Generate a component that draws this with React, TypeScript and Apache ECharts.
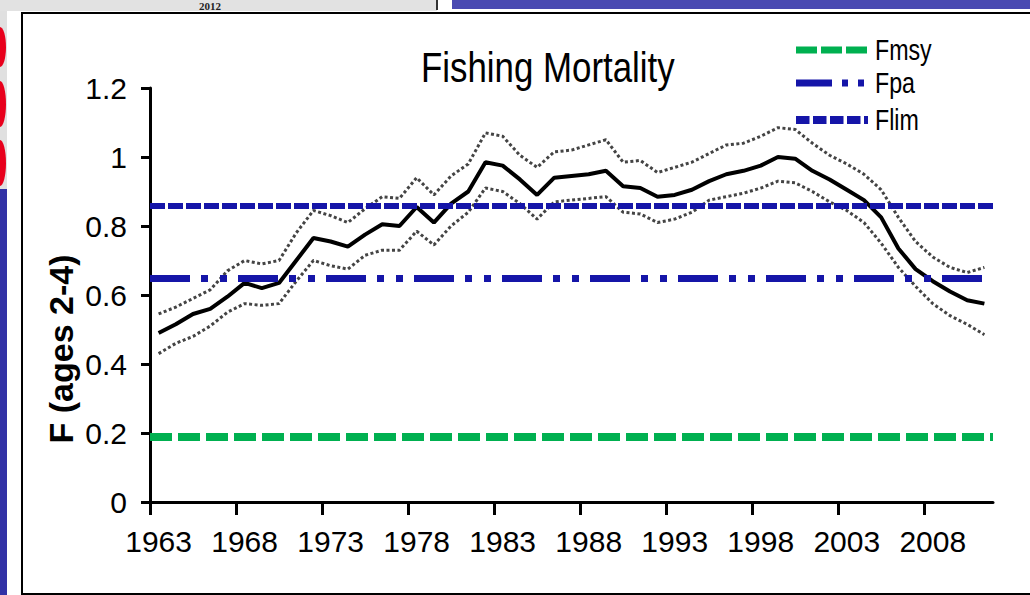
import React, { useEffect, useRef } from "react";
import * as echarts from "echarts";

const years = [
  1963, 1964, 1965, 1966, 1967, 1968, 1969, 1970, 1971, 1972,
  1973, 1974, 1975, 1976, 1977, 1978, 1979, 1980, 1981, 1982,
  1983, 1984, 1985, 1986, 1987, 1988, 1989, 1990, 1991, 1992,
  1993, 1994, 1995, 1996, 1997, 1998, 1999, 2000, 2001, 2002,
  2003, 2004, 2005, 2006, 2007, 2008, 2009, 2010, 2011,
];

const fishingF = [
  0.49, 0.515, 0.545, 0.56, 0.595, 0.635, 0.62, 0.635, 0.7, 0.765,
  0.755, 0.74, 0.775, 0.805, 0.8, 0.855, 0.81, 0.865, 0.9, 0.985,
  0.975, 0.935, 0.89, 0.94, 0.945, 0.95, 0.96, 0.915, 0.91, 0.885,
  0.89, 0.905, 0.93, 0.95, 0.96, 0.975, 1.0, 0.995, 0.96, 0.935,
  0.905, 0.875, 0.825, 0.735, 0.675, 0.64, 0.61, 0.585, 0.575,
];

const upperF = [
  0.545, 0.565, 0.59, 0.615, 0.67, 0.7, 0.69, 0.7, 0.78, 0.845,
  0.83, 0.81, 0.85, 0.885, 0.88, 0.94, 0.89, 0.945, 0.98, 1.07,
  1.06, 1.005, 0.97, 1.015, 1.02, 1.035, 1.05, 0.985, 0.99, 0.955,
  0.97, 0.985, 1.01, 1.035, 1.04, 1.06, 1.085, 1.08, 1.04, 1.005,
  0.98, 0.95, 0.905, 0.825, 0.755, 0.71, 0.68, 0.665, 0.68,
];

const lowerF = [
  0.43, 0.46, 0.48, 0.51, 0.55, 0.575, 0.57, 0.575, 0.64, 0.7,
  0.685, 0.675, 0.715, 0.73, 0.73, 0.785, 0.745, 0.8, 0.84, 0.91,
  0.9, 0.865, 0.82, 0.87, 0.875, 0.88, 0.885, 0.84, 0.835, 0.81,
  0.82, 0.84, 0.875, 0.885, 0.895, 0.91, 0.93, 0.925, 0.9, 0.87,
  0.845, 0.81, 0.75, 0.68, 0.625, 0.575, 0.54, 0.515, 0.485,
];

const FMSY = 0.19;
const FPA = 0.65;
const FLIM = 0.86;

const xTickLabels = [1963, 1968, 1973, 1978, 1983, 1988, 1993, 1998, 2003, 2008];

const legendNames = ["Fmsy", "Fpa", "Flim"];

const GREEN = "#00b050";
const BLUE = "#1515a8";
const SANS = "'Liberation Sans', Arial, sans-serif";

const FMSY_DASH = [22, 6];
const FPA_DASH = [40, 11, 7, 12, 7, 11];
const FLIM_DASH = [15, 3];

export default function App() {
  const ref = useRef<HTMLDivElement>(null);

  useEffect(() => {
    if (!ref.current) return;
    const chart = echarts.init(ref.current, undefined, { renderer: "svg" });

    const pairs = (vals: number[]) => years.map((y, i) => [y, vals[i]]);
    const refLine = (name: string, value: number, color: string, width: number, dash: number[]) => ({
      name,
      type: "line",
      data: [],
      symbol: "none",
      lineStyle: { color, width, type: dash },
      itemStyle: { color },
      markLine: {
        silent: true,
        symbol: "none",
        label: { show: false },
        lineStyle: { color, width, type: dash },
        data: [{ yAxis: value }],
      },
    });

    const legendItems = [
      { name: legendNames[0], cy: 50, color: GREEN, width: 7, dash: [21, 4] },
      { name: legendNames[1], cy: 83, color: BLUE, width: 7, dash: [36, 10, 6, 10, 6, 10] },
      { name: legendNames[2], cy: 120, color: BLUE, width: 8, dash: [13.5, 3.5] },
    ];
    const legendGraphics: any[] = [];
    legendItems.forEach((it) => {
      legendGraphics.push({
        type: "line",
        shape: { x1: 796, y1: it.cy, x2: 868, y2: it.cy },
        style: { stroke: it.color, lineWidth: it.width, lineDash: it.dash },
        silent: true,
      });
      legendGraphics.push({
        type: "text",
        x: 875,
        y: it.cy,
        scaleX: 0.8,
        style: {
          text: it.name,
          font: `29px ${SANS}`,
          fill: "#000",
          textAlign: "left",
          textVerticalAlign: "middle",
        },
      });
    });

    chart.setOption({
      animation: false,
      backgroundColor: "#ffffff",
      grid: { left: 150, right: 37, top: 88, bottom: 93, containLabel: false },
      xAxis: {
        type: "value",
        min: 1962.5,
        max: 2011.5,
        splitLine: { show: false },
        axisLine: { show: true, lineStyle: { color: "#000", width: 3 } },
        axisTick: {
          show: true,
          length: 13,
          lineStyle: { color: "#000", width: 3 },
          customValues: xTickLabels.map((y) => y - 0.5),
        },
        axisLabel: {
          customValues: xTickLabels,
          formatter: (v: number) => String(v),
          fontFamily: SANS,
          fontSize: 30,
          color: "#000",
          margin: 24,
        },
      },
      yAxis: {
        type: "value",
        min: 0,
        max: 1.2,
        interval: 0.2,
        splitLine: { show: false },
        axisLine: { show: true, lineStyle: { color: "#000", width: 3 } },
        axisTick: { show: true, length: 9, lineStyle: { color: "#000", width: 3 } },
        axisLabel: {
          fontFamily: SANS,
          fontSize: 30,
          color: "#000",
          margin: 23,
        },
      },
      graphic: [
        { type: "rect", shape: { x: 0, y: 0, width: 437, height: 11 }, style: { fill: "#e2e2e2" } },
        { type: "rect", shape: { x: 436, y: 0, width: 2, height: 10 }, style: { fill: "#333" } },
        { type: "rect", shape: { x: 452, y: 0, width: 578, height: 9 }, style: { fill: "#4a4ab2" } },
        { type: "rect", shape: { x: 0, y: 11, width: 7, height: 178 }, style: { fill: "#e0e0e0" } },
        { type: "ellipse", shape: { cx: 0, cy: 47, rx: 6, ry: 20 }, style: { fill: "#e8001c" } },
        { type: "ellipse", shape: { cx: 0, cy: 104, rx: 6, ry: 23 }, style: { fill: "#e8001c" } },
        { type: "ellipse", shape: { cx: 0, cy: 163, rx: 6, ry: 23 }, style: { fill: "#e8001c" } },
        { type: "rect", shape: { x: 0, y: 189, width: 7, height: 406 }, style: { fill: "#3232a6" } },
        {
          type: "text",
          x: 210,
          y: 0,
          style: {
            text: "2012",
            font: "bold 11px 'Liberation Serif', serif",
            fill: "#222",
            textAlign: "center",
            textVerticalAlign: "top",
          },
        },
        {
          type: "rect",
          shape: { x: 22, y: 13, width: 1030, height: 581 },
          style: { fill: "none", stroke: "#000", lineWidth: 2 },
        },
        {
          type: "text",
          x: 421,
          y: 46,
          scaleX: 0.83,
          style: {
            text: "Fishing Mortality",
            font: `42px ${SANS}`,
            fill: "#000",
            textAlign: "left",
            textVerticalAlign: "top",
          },
        },
        {
          type: "text",
          x: 61,
          y: 349,
          rotation: Math.PI / 2,
          style: {
            text: "F (ages 2-4)",
            font: `bold 34px ${SANS}`,
            fill: "#000",
            textAlign: "center",
            textVerticalAlign: "middle",
          },
        },
        ...legendGraphics,
      ],
      series: [
        refLine("Fmsy", FMSY, GREEN, 8, FMSY_DASH),
        refLine("Fpa", FPA, BLUE, 7, FPA_DASH),
        refLine("Flim", FLIM, BLUE, 6, FLIM_DASH),
        {
          name: "Upper",
          type: "line",
          data: pairs(upperF),
          symbol: "none",
          lineStyle: { color: "#444", width: 3, type: [3, 2.5] },
        },
        {
          name: "Lower",
          type: "line",
          data: pairs(lowerF),
          symbol: "none",
          lineStyle: { color: "#444", width: 3, type: [3, 2.5] },
        },
        {
          name: "F",
          type: "line",
          data: pairs(fishingF),
          symbol: "none",
          lineStyle: { color: "#000", width: 4 },
        },
      ],
    });

    return () => chart.dispose();
  }, []);

  return (
    <div
      ref={ref}
      style={{ position: "absolute", left: 0, top: 0, width: 1030, height: 595, background: "#fff" }}
    />
  );
}
